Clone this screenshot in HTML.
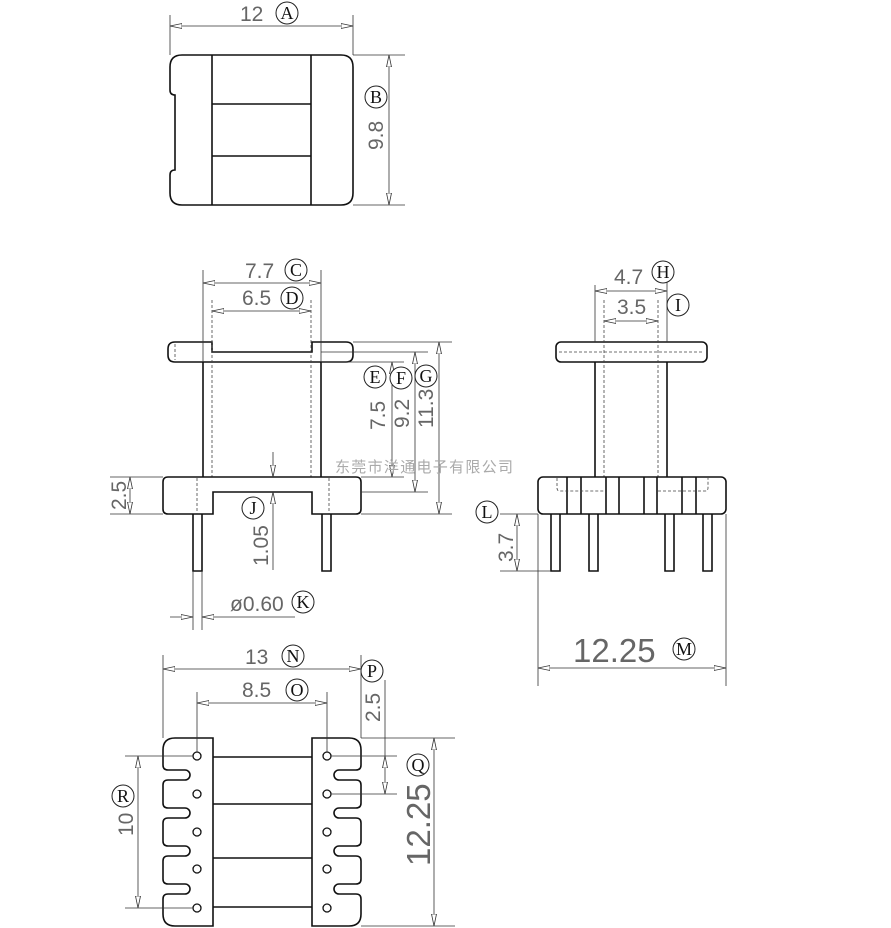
<!DOCTYPE html>
<html><head><meta charset="utf-8"><style>
html,body{margin:0;padding:0;background:#fff;}
svg{display:block}
.o{fill:none;stroke:#111;stroke-width:1.6}
.d{fill:none;stroke:#333;stroke-width:0.8}
.ds{fill:none;stroke:#444;stroke-width:0.8;stroke-dasharray:3,2}
.a{marker-start:url(#ar);marker-end:url(#ar)}
.t{font-family:"Liberation Sans",sans-serif;fill:#666;font-size:21px}
.c{fill:#fff;stroke:#222;stroke-width:1}
.l{font-family:"Liberation Serif",serif;font-size:18px;fill:#111;text-anchor:middle}
</style></head><body>
<svg width="891" height="928" viewBox="0 0 891 928" xmlns="http://www.w3.org/2000/svg">
<defs>
<marker id="ar" viewBox="0 0 12 6" refX="12" refY="3" markerWidth="12" markerHeight="6" markerUnits="userSpaceOnUse" orient="auto-start-reverse">
<path d="M0,0.5 L12,3 L0,5.5 Z" fill="#fff" stroke="#333" stroke-width="0.8"/>
</marker>
</defs>

<!-- TOP VIEW -->
<path class="o" d="M182,55 L341,55 Q353,55 353,67 L353,193 Q353,205 341,205 L182,205 Q170,205 170,193 L170,175 Q170,170 175,170 L175,95 Q170,95 170,90 L170,67 Q170,55 182,55Z"/>
<path class="o" d="M212,55V205M311,55V205M212,104H311M212,156H311"/>
<path class="d" d="M170,15V55M353,15V55"/>
<line class="d a" x1="170" y1="26" x2="353" y2="26"/>
<text class="t" x="240" y="21">12</text>
<circle class="c" cx="287" cy="13" r="11"/><text class="l" x="287" y="19">A</text>
<path class="d" d="M353,55H405M353,205H405"/>
<line class="d a" x1="389" y1="55" x2="389" y2="205"/>
<text class="t" transform="translate(383,150) rotate(-90)">9.8</text>
<circle class="c" cx="376" cy="97" r="11"/><text class="l" x="376" y="103">B</text>

<!-- FRONT VIEW -->
<path class="o" d="M175,342 L212,342 L212,352 L312,352 L312,342 L346,342 Q353,342 353,349 L353,355 Q353,362 346,362 L175,362 Q168,362 168,355 L168,349 Q168,342 175,342Z"/>
<path class="ds" d="M175,344V360"/>
<path class="o" d="M203,362V477M321,362V477"/>
<path class="ds" d="M212,300V477M311,300V477"/>
<path class="o" d="M168,477 L356,477 Q361,477 361,482 L361,509 Q361,514 356,514 L312,514 L312,492 L213,492 L213,514 L168,514 Q163,514 163,509 L163,482 Q163,477 168,477Z"/>
<path class="ds" d="M197,478V514M329,478V514"/>
<path class="o" d="M193,514V571H202V514M322,514V571H331V514"/>
<path class="d" d="M203,270V362M321,270V362"/>
<line class="d a" x1="203" y1="283" x2="321" y2="283"/>
<text class="t" x="245" y="278">7.7</text>
<circle class="c" cx="296" cy="270" r="11"/><text class="l" x="296" y="276">C</text>
<line class="d a" x1="212" y1="311" x2="311" y2="311"/>
<text class="t" x="242" y="305">6.5</text>
<circle class="c" cx="292" cy="298" r="11"/><text class="l" x="292" y="304">D</text>
<path class="d" d="M353,342H452M321,352H428M321,362H404M361,477H404M361,492H428M361,514H452"/>
<line class="d a" x1="392" y1="362" x2="392" y2="477"/>
<line class="d a" x1="415" y1="352" x2="415" y2="492"/>
<line class="d a" x1="439" y1="342" x2="439" y2="514"/>
<text class="t" transform="translate(385,430) rotate(-90)">7.5</text>
<text class="t" transform="translate(409,428) rotate(-90)">9.2</text>
<text class="t" transform="translate(433,428) rotate(-90)">11.3</text>
<circle class="c" cx="375" cy="377" r="11"/><text class="l" x="375" y="383">E</text>
<circle class="c" cx="401" cy="378" r="11"/><text class="l" x="401" y="384">F</text>
<circle class="c" cx="426" cy="376" r="11"/><text class="l" x="426" y="382">G</text>
<path class="d" d="M110,477H163M110,514H163"/>
<line class="d a" x1="130" y1="477" x2="130" y2="514"/>
<text class="t" transform="translate(126,510) rotate(-90)">2.5</text>
<line class="d" x1="273" y1="452" x2="273" y2="477" marker-end="url(#ar)"/>
<line class="d" x1="273" y1="570" x2="273" y2="492" marker-end="url(#ar)"/>
<text class="t" transform="translate(268,566) rotate(-90)">1.05</text>
<circle class="c" cx="253" cy="508" r="11"/><text class="l" x="253" y="514">J</text>
<path class="d" d="M193,571V630M202,571V630"/>
<line class="d" x1="170" y1="617" x2="193" y2="617" marker-end="url(#ar)"/>
<line class="d" x1="295" y1="617" x2="202" y2="617" marker-end="url(#ar)"/>
<text class="t" x="230" y="611">ø0.60</text>
<circle class="c" cx="303" cy="602" r="11"/><text class="l" x="303" y="608">K</text>

<!-- watermark -->
<text x="335" y="472" style="font-family:'Liberation Sans','Noto Sans CJK SC',sans-serif;font-size:15px;fill:#aaa;letter-spacing:1.3px">东莞市洋通电子有限公司</text>

<!-- SIDE VIEW -->
<rect class="o" x="556" y="342" width="151" height="20" rx="5"/>
<path class="ds" d="M559,352H704"/>
<path class="o" d="M595,362V477M667,362V477"/>
<path class="ds" d="M604,300V477M658,300V477"/>
<rect class="o" x="538" y="477" width="188" height="37" rx="5"/>
<path class="o" d="M567,477V514M581,477V514M606,477V514M619,477V514M644,477V514M657,477V514M682,477V514M696,477V514"/>
<path class="ds" d="M557,478V488Q557,491 560,491H605M658,491H705Q708,491 708,488V478"/>
<path class="o" d="M551,514V571H560V514M589,514V571H598V514M665,514V571H674V514M703,514V571H712V514"/>
<path class="d" d="M595,285V342M667,262V342"/>
<line class="d a" x1="595" y1="291" x2="667" y2="291"/>
<text class="t" x="614" y="284">4.7</text>
<circle class="c" cx="663" cy="272" r="11"/><text class="l" x="663" y="278">H</text>
<line class="d a" x1="604" y1="321" x2="658" y2="321"/>
<text class="t" x="617" y="314">3.5</text>
<circle class="c" cx="678" cy="305" r="11"/><text class="l" x="678" y="311">I</text>
<path class="d" d="M500,514H538M500,571H551"/>
<line class="d a" x1="517" y1="514" x2="517" y2="571"/>
<text class="t" transform="translate(513,562) rotate(-90)">3.7</text>
<circle class="c" cx="487" cy="512" r="11"/><text class="l" x="487" y="518">L</text>
<path class="d" d="M538,514V686M726,514V686"/>
<line class="d a" x1="538" y1="668" x2="726" y2="668"/>
<text class="t" x="573" y="662" style="font-size:33px">12.25</text>
<circle class="c" cx="684" cy="649" r="11"/><text class="l" x="684" y="655">M</text>

<!-- BOTTOM VIEW -->
<path class="o" d="M175,738 L213,738 L213,926 L175,926 Q163,926 163,914
L163,899 Q163,894 168,894 L185,894 A5,5 0 0 0 185,884 L168,884 Q163,884 163,879
L163,861 Q163,856 168,856 L185,856 A5,5 0 0 0 185,846 L168,846 Q163,846 163,841
L163,823 Q163,818 168,818 L185,818 A5,5 0 0 0 185,808 L168,808 Q163,808 163,803
L163,785 Q163,780 168,780 L185,780 A5,5 0 0 0 185,770 L168,770 Q163,770 163,765
L163,750 Q163,738 175,738Z"/>
<path class="o" d="M312,738 L349,738 Q361,738 361,750
L361,765 Q361,770 356,770 L339,770 A5,5 0 0 0 339,780 L356,780 Q361,780 361,785
L361,803 Q361,808 356,808 L339,808 A5,5 0 0 0 339,818 L356,818 Q361,818 361,823
L361,841 Q361,846 356,846 L339,846 A5,5 0 0 0 339,856 L356,856 Q361,856 361,861
L361,879 Q361,884 356,884 L339,884 A5,5 0 0 0 339,894 L356,894 Q361,894 361,899
L361,914 Q361,926 349,926 L312,926Z"/>
<path class="o" d="M213,757H312M213,804H312M213,858H312M213,907H312"/>
<g class="o" style="stroke-width:1.3">
<circle cx="197" cy="756" r="4"/><circle cx="197" cy="794" r="4"/><circle cx="197" cy="832" r="4"/><circle cx="197" cy="869" r="4"/><circle cx="197" cy="908" r="4"/>
<circle cx="327" cy="756" r="4"/><circle cx="327" cy="794" r="4"/><circle cx="327" cy="832" r="4"/><circle cx="327" cy="869" r="4"/><circle cx="327" cy="908" r="4"/>
</g>
<path class="d" d="M163,655V738M361,655V738M197,692V752M327,692V752"/>
<line class="d a" x1="163" y1="669" x2="361" y2="669"/>
<text class="t" x="245" y="664">13</text>
<circle class="c" cx="293" cy="656" r="11"/><text class="l" x="293" y="662">N</text>
<line class="d a" x1="197" y1="703" x2="327" y2="703"/>
<text class="t" x="242" y="697">8.5</text>
<circle class="c" cx="297" cy="690" r="11"/><text class="l" x="297" y="696">O</text>
<path class="d" d="M331,756H397M331,794H397M385,680V756"/>
<line class="d a" x1="385" y1="756" x2="385" y2="794"/>
<text class="t" transform="translate(380,722) rotate(-90)">2.5</text>
<circle class="c" cx="372" cy="671" r="11"/><text class="l" x="372" y="677">P</text>
<path class="d" d="M361,738H455M361,926H455"/>
<line class="d a" x1="434" y1="738" x2="434" y2="926"/>
<text class="t" transform="translate(430,866) rotate(-90)" style="font-size:33px">12.25</text>
<circle class="c" cx="418" cy="765" r="11"/><text class="l" x="418" y="771">Q</text>
<path class="d" d="M125,756H193M125,908H193"/>
<line class="d a" x1="138" y1="756" x2="138" y2="908"/>
<text class="t" transform="translate(133,836) rotate(-90)">10</text>
<circle class="c" cx="123" cy="796" r="11"/><text class="l" x="123" y="802">R</text>
</svg>
</body></html>
